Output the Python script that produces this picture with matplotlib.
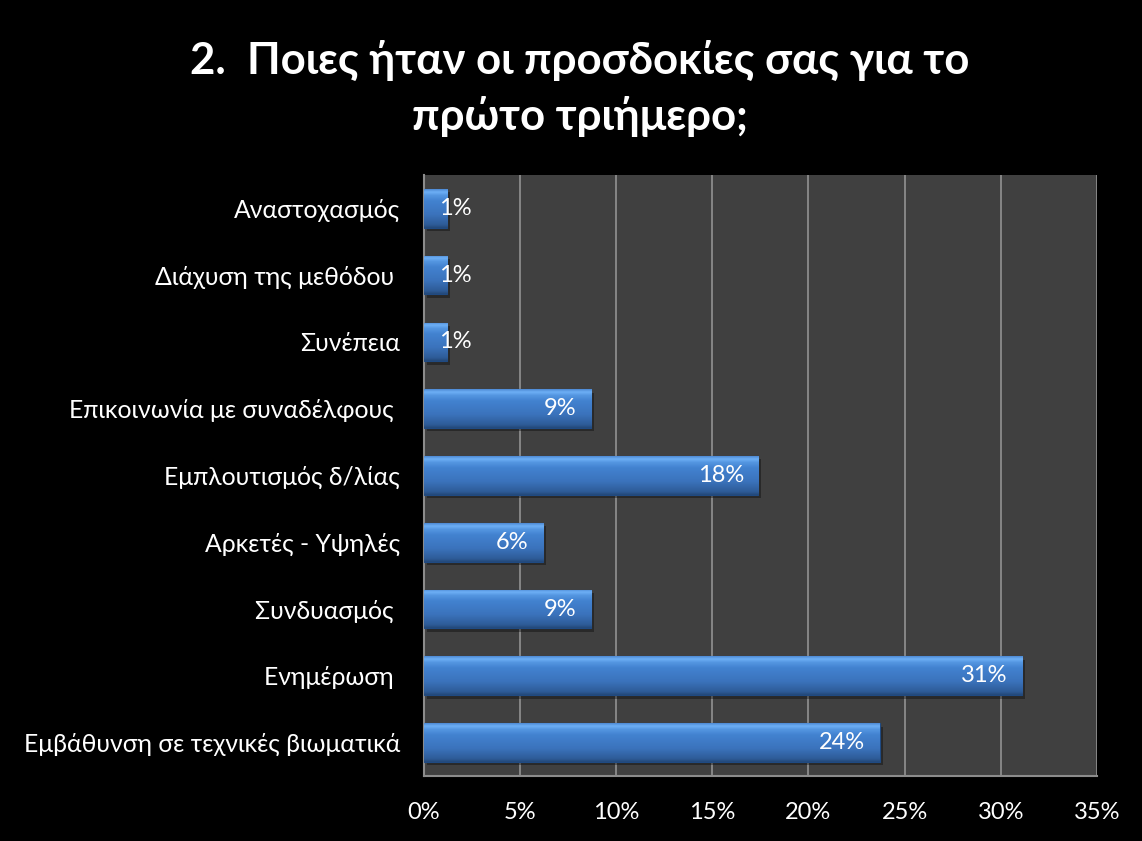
import numpy as np
import matplotlib.pyplot as plt
from matplotlib.colors import LinearSegmentedColormap

plt.rcParams['font.family'] = ['Lato', 'DejaVu Sans']

# -----------------------------
# Data (top to bottom as shown)
# -----------------------------
categories = ['Αναστοχασμός', 'Διάχυση της μεθόδου ', 'Συνέπεια',
              'Επικοινωνία με συναδέλφους ', 'Εμπλουτισμός δ/λίας',
              'Αρκετές - Υψηλές', 'Συνδυασμός ', 'Ενημέρωση ',
              'Εμβάθυνση σε τεχνικές βιωματικά']
values = [1.2, 1.2, 1.2, 8.7, 17.4, 6.2, 8.7, 31.1, 23.7]
value_labels = ['1%', '1%', '1%', '9%', '18%', '6%', '9%', '31%', '24%']
xticks = [0, 5, 10, 15, 20, 25, 30, 35]

title = '2.  Ποιες ήταν οι προσδοκίες σας για το\nπρώτο τριήμερο;'

# -----------------------------
# Figure
# -----------------------------
fig = plt.figure(figsize=(11.42, 8.41), dpi=100, facecolor='black')
ax = fig.add_axes([0.371, 0.0773, 0.5896, 0.7147])
ax.set_facecolor('#404040')

y = np.arange(len(categories))[::-1]
h = 0.58

# vertical gradient for the bevelled bar look (bottom -> top)
bar_cmap = LinearSegmentedColormap.from_list(
    'bevel',
    [(0.0, '#24497A'), (0.08, '#2E5C98'), (0.35, '#3B73BC'), (0.7, '#4282D0'),
     (0.85, '#5597E2'), (0.93, '#6EB0F6'), (1.0, '#4F8BD6')])
grad = np.linspace(0, 1, 64).reshape(-1, 1)

ax.barh(y - 0.05, values, height=h, left=0.15, color='black', alpha=0.35, zorder=2)
bars = ax.barh(y, values, height=h, color='#3B74BE', edgecolor='#1F4A82',
               linewidth=0.8, zorder=3)
for b in bars:
    x0, y0 = b.get_x(), b.get_y()
    im = ax.imshow(grad, cmap=bar_cmap, origin='lower', aspect='auto',
                   extent=[x0, x0 + b.get_width(), y0, y0 + b.get_height()],
                   zorder=3.5)
    im.set_clip_path(b)

for yi, v, lab in zip(y, values, value_labels):
    if v < 3:
        ax.text(0.8, yi, lab, ha='left', va='center', color='white',
                fontsize=17, zorder=5)
    else:
        ax.text(v - 0.75, yi, lab, ha='right', va='center', color='white',
                fontsize=17, zorder=5)

ax.set_xlim(0, 35)
ax.set_ylim(-0.5, len(categories) - 0.5)
ax.set_xticks(xticks)
ax.set_xticklabels([f'{t}%' for t in xticks])
ax.set_yticks(y)
ax.set_yticklabels(categories, fontsize=17.8)
ax.tick_params(axis='x', labelsize=17)
ax.tick_params(axis='both', colors='white', length=0)
ax.tick_params(axis='y', pad=17)
ax.tick_params(axis='x', pad=19)
ax.xaxis.grid(True, color='#8C8C8C', linewidth=1.3, zorder=1)
ax.set_axisbelow(True)

for side in ['top', 'right']:
    ax.spines[side].set_visible(False)
for side in ['left', 'bottom']:
    ax.spines[side].set_color('#8C8C8C')
    ax.spines[side].set_linewidth(1.5)

fig.text(0.508, 0.895, title, ha='center', va='center', color='white',
         fontsize=31.5, fontweight='bold', linespacing=1.45)

plt.savefig('out.png', dpi=100, facecolor='black')
